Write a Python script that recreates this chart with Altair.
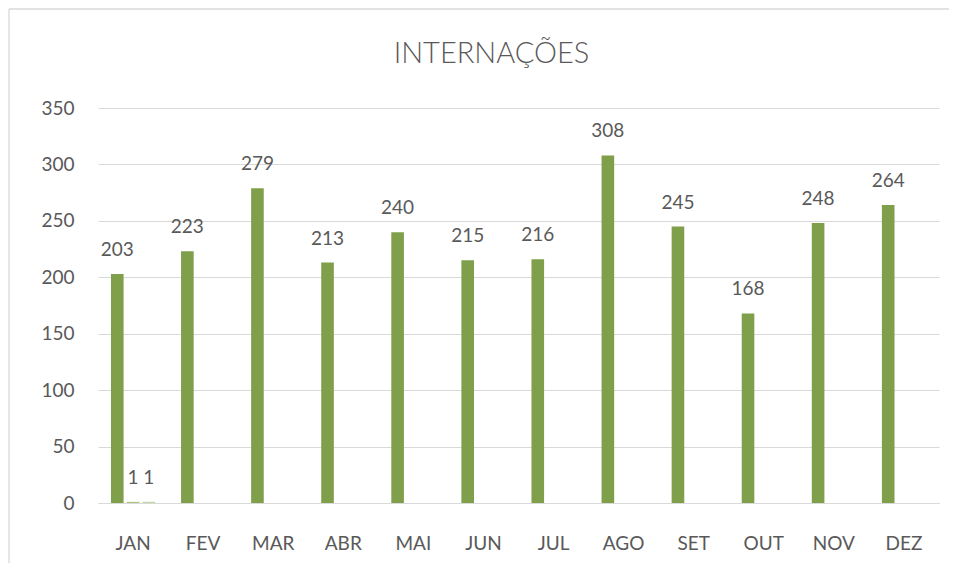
import altair as alt
import pandas as pd

months = ["JAN", "FEV", "MAR", "ABR", "MAI", "JUN", "JUL", "AGO", "SET", "OUT", "NOV", "DEZ"]
serie1 = [203, 223, 279, 213, 240, 215, 216, 308, 245, 168, 248, 264]
serie2 = [1, None, None, None, None, None, None, None, None, None, None, None]
serie3 = [1, None, None, None, None, None, None, None, None, None, None, None]
series_names = ["Série1", "Série2", "Série3"]
series_colors = ["#7F9F4A", "#A9C47F", "#C3D6A6"]
y_ticks = [0, 50, 100, 150, 200, 250, 300, 350]
title_text = "INTERNAÇÕES"

rows = []
for name, vals in zip(series_names, [serie1, serie2, serie3]):
    for m, v in zip(months, vals):
        rows.append({"mes": m, "serie": name, "valor": v})
df = pd.DataFrame(rows)

FONT = "Lato"
TXT = "#595959"
GRID = "#D9D9D9"
W, H = 841, 395

x_enc = alt.X("mes:N", sort=months, title=None,
              scale=alt.Scale(paddingInner=0.37, paddingOuter=0.185),
              axis=alt.Axis(labelAngle=0, ticks=False, labelPadding=31, labelFontSize=19,
                            labelFont=FONT, labelColor=TXT, domainColor=GRID, grid=False))
xo_enc = alt.XOffset("serie:N", sort=series_names, scale=alt.Scale(paddingInner=0.2, paddingOuter=0))
y_enc = alt.Y("valor:Q", title=None, scale=alt.Scale(domain=[0, 350], nice=False),
              axis=alt.Axis(values=y_ticks, ticks=False, domain=False, gridColor=GRID,
                            labelFontSize=19, labelFont=FONT, labelColor=TXT, labelPadding=24))

base = alt.Chart(df).transform_filter("datum.valor != null")

bars = base.mark_bar().encode(
    x=x_enc, xOffset=xo_enc, y=y_enc,
    color=alt.Color("serie:N", sort=series_names,
                    scale=alt.Scale(domain=series_names, range=series_colors), legend=None),
)

labels = base.mark_text(baseline="alphabetic", dy=-18, fontSize=19, font=FONT, color=TXT).encode(
    x=alt.X("mes:N", sort=months), xOffset=alt.XOffset("serie:N", sort=series_names),
    y="valor:Q", text="valor:Q",
)

title = alt.Chart(pd.DataFrame({"t": [title_text]})).mark_text(
    fontSize=29, font=FONT, fontWeight=300, color=TXT, align="center", baseline="alphabetic"
).encode(text="t:N", x=alt.value(393.5), y=alt.value(-45))

one = pd.DataFrame({"t": [0]})
border_top = alt.Chart(one).mark_rule(stroke=GRID, strokeWidth=1.3).encode(
    x=alt.value(-89), x2=alt.value(W + 60), y=alt.value(-99))
border_left = alt.Chart(one).mark_rule(stroke=GRID, strokeWidth=1.3).encode(
    x=alt.value(-89), y=alt.value(-99), y2=alt.value(H + 120))

chart = alt.layer(border_top, border_left, bars, labels, title).properties(
    width=W, height=H,
    autosize=alt.AutoSizeParams(type="none"),
    padding={"left": 90, "top": 100, "right": 10, "bottom": 60},
).configure_view(stroke=None).configure_axis(labelFont=FONT)

chart.save("out.html", embed_options={"renderer": "svg", "actions": False})
